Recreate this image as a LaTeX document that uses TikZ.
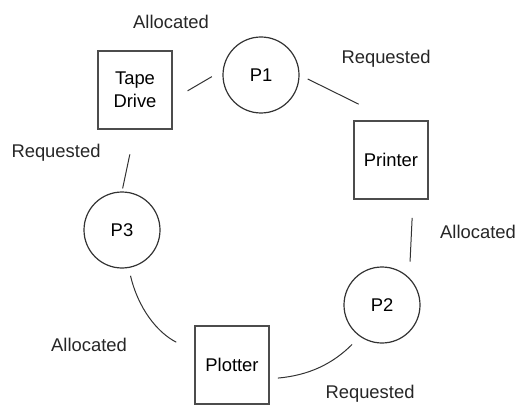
\documentclass[tikz,border=0pt]{standalone}
\usepackage{fontspec}
\setmainfont{Liberation Sans}
\usetikzlibrary{calc}

\begin{document}
\begin{tikzpicture}[x=0.5pt,y=-0.5pt,
    font=\fontsize{9.2}{11.5}\selectfont,
    proc/.style={circle,draw=black!80,line width=0.6pt,minimum size=38pt,inner sep=0pt},
    res/.style={rectangle,draw=black!70,line width=0.9pt,minimum width=37pt,minimum height=39pt,inner sep=0pt,align=center},
    lbl/.style={text=black!85,inner sep=0pt},
    link/.style={draw=black!80,line width=0.5pt}]
        \useasboundingbox (0,0) rectangle (518,406);

        % processes and resources
        \node[proc] (p1) at (261,75) {P1};
        \node[proc] (p2) at (382,305) {P2};
        \node[proc] (p3) at (122,230) {P3};
        \node[res] (tape) at (135,90) {Tape\\Drive};
        \node[res] (printer) at (391,160) {Printer};
        \node[res] (plotter) at (232,365) {Plotter};

        % edge labels
        \node[lbl] (alloc1) at (171,22) {Allocated};
        \node[lbl] (req1) at (386,59) {Requested};
        \node[lbl] (alloc2) at (478,232) {Allocated};
        \node[lbl] (req2) at (370,394) {Requested};
        \node[lbl] (alloc3) at (89,345) {Allocated};
        \node[lbl] (req3) at (56,153) {Requested};

        % edges
        \draw[link,shorten <=8.5pt,shorten >=6.25pt] (tape.-14) -- (p1.173);
        \draw[link,shorten <=4.5pt,shorten >=18pt] (p1.east) -- (printer.north);
        \draw[link,shorten <=9pt,shorten >=8pt] ($(printer.south)!0.58!(printer.south east)$) -- (p2.north east);
        \draw[link,shorten <=5.5pt,shorten >=4pt] (p2.235) to[bend left=20] (plotter.-20);
        \draw[link,shorten <=10pt,shorten >=4pt] (plotter.160) to[bend left=25] (p3.-80);
        \draw[link,shorten <=1.5pt,shorten >=12.5pt] (p3.north) -- (tape.south);
      \end{tikzpicture}
\end{document}
